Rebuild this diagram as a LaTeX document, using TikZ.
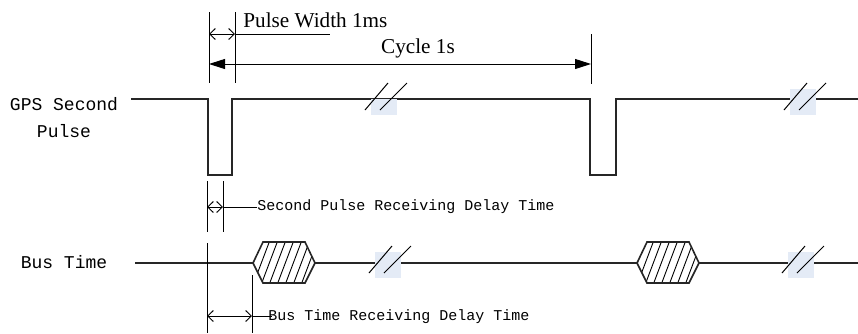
\documentclass[tikz,border=0pt]{standalone}
\usepackage{fontspec}
\setmainfont{Liberation Serif}
\setmonofont{Liberation Mono}
\usetikzlibrary{arrows.meta}

\definecolor{breakblue}{HTML}{E4EBF6}

\newcommand{\bushex}[2]{% name, x of left point
  \path (#2,263) coordinate (#1w) ++(62,0) coordinate (#1e);
  \begin{scope}
    \clip (#2,263)--(#2+10,242)--(#2+52,242)--(#2+62,263)--(#2+52,283)--(#2+10,283)--cycle;
    \foreach \k in {-3,...,8} \draw[hatch] (#2+\k*8,285) -- ++(17,-45);
  \end{scope}
  \draw[wave] (#2,263)--(#2+10,242)--(#2+52,242)--(#2+62,263)--(#2+52,283)--(#2+10,283)--cycle;
}
\newcommand{\cutmark}[3]{% x, y of box corner, top of box
  \fill[breakblue] (#1,#3) rectangle (#1+26,#2+16);
  \draw[dim] (#1-6,#2+11) -- ++(23,-27);
  \draw[dim] (#1+9,#2+11) -- ++(27,-27);
}

\begin{document}
\begin{tikzpicture}[x=0.5pt,y=-0.5pt,
  wave/.style={line width=0.8pt,black!85},
  dim/.style={line width=0.5pt,black},
  hatch/.style={line width=0.45pt,black},
  open/.style={dim,{Straight Barb[length=2.8pt,width=5.5pt]}-{Straight Barb[length=2.8pt,width=5.5pt]}},
  solid/.style={dim,{Triangle[length=8pt,width=5pt]}-{Triangle[length=8pt,width=5pt]}},
  sig/.style={font=\ttfamily\fontsize{9}{13.5}\selectfont,align=center},
  note/.style={font=\ttfamily\fontsize{7.5}{9}\selectfont,inner sep=0pt,anchor=west},
  roman/.style={font=\fontsize{10.6}{12}\selectfont,inner sep=0pt}]
\useasboundingbox (0,0) rectangle (858,333);

% signal names
\node[sig] (gps) at (64,118) {GPS Second\\Pulse};
\node[sig] (bus) at (64,262) {Bus Time};

% second pulse train
\draw[wave] (131,99) -- (208,99) -- (208,175) -- (232,175) -- (232,99)
  -- (590,99) -- (590,175) -- (616,175) -- (616,99) -- (858,99);
\cutmark{371}{99}{99}
\cutmark{790}{99}{89}

% bus time frames
\draw[wave] (135,263) -- (858,263);
\fill[white] (253,242) rectangle (315,283);
\fill[white] (637,242) rectangle (699,283);
\bushex{fa}{253}
\bushex{fb}{637}
\cutmark{375}{262}{252}
\cutmark{788}{262}{252}

% pulse width and cycle
\draw[dim] (209,12) -- (209,83);
\draw[dim] (235,12) -- (235,83);
\draw[dim] (591,34) -- (591,84);
\coordinate (pwl) at (209,34);
\coordinate (pwr) at (235,34);
\coordinate (pwt) at (330,34);
\draw[open] (pwl) -- (pwr);
\draw[dim] (pwr) -- (pwt);
\node[roman,anchor=base west] (pw) at (243,27) {Pulse Width 1ms};
\coordinate (cyl) at (209,64);
\coordinate (cyr) at (591,64);
\draw[solid] (cyl) -- (cyr);
\node[roman] (cy) at (418,48) {Cycle 1s};

% receiving delays
\draw[dim] (207,181) -- (207,232);
\draw[dim] (223,181) -- (223,232);
\coordinate (sdl) at (207,207);
\coordinate (sdr) at (223,207);
\node[note] (sd) at (257,207) {Second Pulse Receiving Delay Time};
\draw[open] (sdl) -- (sdr);
\draw[dim] (sdr) -- (sd.west);

\draw[dim] (207,243) -- (207,333);
\draw[dim] (252,275) -- (252,333);
\coordinate (bdl) at (207,316);
\coordinate (bdr) at (252,316);
\node[note] (bd) at (268,317) {Bus Time Receiving Delay Time};
\draw[open] (bdl) -- (bdr);
\draw[dim] (bdr) -- ++(20,0);
\end{tikzpicture}
\end{document}
